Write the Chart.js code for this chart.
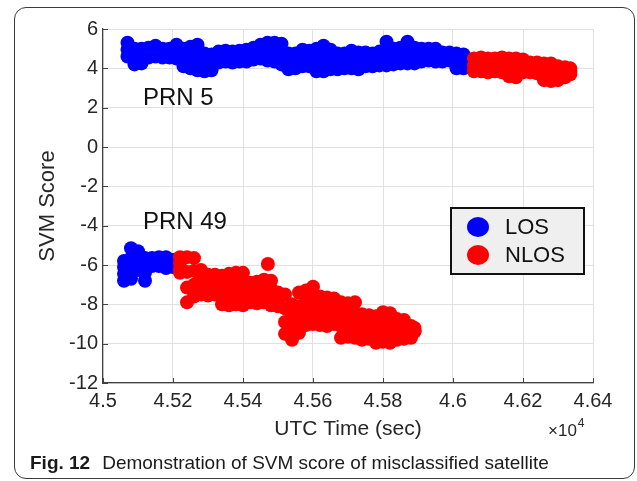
<!DOCTYPE html>
<html>
<head>
<meta charset="utf-8">
<script src="https://cdn.jsdelivr.net/npm/chart.js@4.4.1/dist/chart.umd.min.js"></script>
<style>
  html, body { margin: 0; padding: 0; background: #fff; }
  #wrap { position: relative; width: 637px; height: 481px; overflow: hidden; background: #fff; }
  #frame { position: absolute; left: 14px; top: 7px; width: 621px; height: 472px; box-sizing: border-box;
           border: 1.5px solid #3a3a3a; border-radius: 12px; }
  #chart { position: absolute; left: 0; top: 0; }
  #caption { position: absolute; left: 30px; top: 453px; font-family: "Liberation Sans", Arial, sans-serif;
             font-size: 19px; line-height: 19px; color: #1a1a1a; white-space: nowrap; }
  #caption b { margin-right: 12px; }
</style>
</head>
<body>
<div id="wrap">
  <div id="frame"></div>
  <canvas id="chart" width="637" height="481"></canvas>
  <div id="caption"><b>Fig. 12</b>Demonstration of SVM score of misclassified satellite</div>
</div>
<script>
// ---------- data (x in units of 10^4 s) ----------
const xTickValues = [4.5, 4.52, 4.54, 4.56, 4.58, 4.6, 4.62, 4.64];
const yTickValues = [-12, -10, -8, -6, -4, -2, 0, 2, 4, 6];

// PRN 5 - LOS part
const prn5LosTime = [4.507,4.509,4.511,4.513,4.515,4.517,4.519,4.521,4.523,4.525,4.527,4.529,4.531,4.533,4.535,4.537,4.539,4.541,4.543,4.545,4.547,4.549,4.551,4.553,4.555,4.557,4.559,4.561,4.563,4.565,4.567,4.569,4.571,4.573,4.575,4.577,4.579,4.581,4.583,4.585,4.587,4.589,4.591,4.593,4.595,4.597,4.599,4.601,4.603];
const prn5LosTop = [5.3,5.0,5.0,5.05,5.15,5.0,5.0,5.2,5.0,5.1,5.2,4.75,4.7,4.85,4.9,4.85,4.9,4.95,5.05,5.2,5.3,5.3,5.25,4.75,4.75,4.95,4.9,5.0,5.15,4.95,4.75,4.75,4.9,4.8,4.8,4.75,4.85,5.35,5.0,5.05,5.35,5.05,5.0,5.0,5.0,4.8,4.8,4.75,4.7];
const prn5LosMid = [4.95,4.6,4.6,4.8,4.85,4.8,4.75,4.85,4.55,4.5,4.55,4.3,4.3,4.55,4.6,4.55,4.6,4.65,4.75,4.85,4.85,4.8,4.7,4.35,4.35,4.55,4.5,4.4,4.5,4.45,4.35,4.35,4.45,4.4,4.45,4.45,4.5,4.75,4.6,4.65,4.8,4.65,4.7,4.7,4.7,4.6,4.55,4.35,4.35];
const prn5LosBottom = [4.6,4.2,4.25,4.55,4.6,4.55,4.55,4.5,4.1,4.0,3.9,3.85,3.9,4.3,4.35,4.3,4.35,4.35,4.45,4.5,4.4,4.35,4.2,3.95,4.0,4.1,4.1,3.85,3.85,3.95,3.95,4.0,4.0,3.95,4.1,4.1,4.15,4.15,4.2,4.25,4.25,4.25,4.35,4.4,4.35,4.35,4.4,4.0,4.0];

// PRN 5 - NLOS part
const prn5NlosTime = [4.606,4.608,4.610,4.612,4.614,4.616,4.618,4.620,4.622,4.624,4.626,4.628,4.630,4.632,4.6335];
const prn5NlosTop = [4.5,4.55,4.5,4.5,4.55,4.5,4.5,4.45,4.3,4.3,4.25,4.25,4.1,4.05,4.0];
const prn5NlosMid = [4.15,4.2,4.15,4.2,4.15,4.05,4.05,4.1,4.05,4.0,3.85,3.8,3.75,3.8,3.85];
const prn5NlosBottom = [3.85,3.85,3.8,3.85,3.8,3.6,3.55,3.8,3.8,3.75,3.4,3.35,3.4,3.55,3.7];

// PRN 49 - LOS part
const prn49LosTime = [4.506,4.508,4.510,4.512,4.514,4.516,4.518,4.520];
const prn49LosTop = [-5.8,-5.15,-5.3,-5.65,-5.65,-5.6,-5.6,-5.75];
const prn49LosUpperMid = [-6.1,-5.65,-5.6,-6.0,-5.75,-5.75,-5.8,-5.85];
const prn49LosLowerMid = [-6.45,-6.2,-5.95,-6.4,-5.9,-5.9,-6.0,-5.95];
const prn49LosBottom = [-6.8,-6.7,-6.25,-6.8,-6.05,-6.05,-6.15,-6.1];

// PRN 49 - NLOS part
const prn49NlosTime = [4.522,4.524,4.526,4.528,4.530,4.532,4.534,4.536,4.538,4.540,4.542,4.544,4.546,4.548,4.550,4.552,4.554,4.556,4.558,4.560,4.562,4.564,4.566,4.568,4.570,4.572,4.574,4.576,4.578,4.580,4.582,4.584,4.586,4.588,4.589];
const prn49NlosTop = [-5.6,-5.6,-5.65,-6.25,-6.5,-6.5,-6.55,-6.45,-6.4,-6.4,-6.9,-6.85,-6.75,-6.8,-7.4,-7.5,-8.0,-7.4,-7.3,-7.1,-7.6,-7.65,-7.7,-7.9,-7.95,-7.9,-8.5,-8.55,-8.6,-8.4,-8.45,-8.75,-8.8,-9.1,-9.2];
const prn49NlosUpperMid = [-5.9,-6.35,-6.3,-6.7,-6.9,-6.85,-7.05,-7.0,-6.95,-6.95,-7.25,-7.2,-7.15,-7.2,-7.6,-8.2,-8.6,-8.1,-7.9,-7.7,-8.1,-8.15,-8.1,-8.5,-8.5,-8.5,-8.95,-8.95,-9.05,-8.9,-8.95,-9.1,-9.1,-9.3,-9.3];
const prn49NlosLowerMid = [-6.2,-7.15,-7.0,-7.1,-7.2,-7.2,-7.55,-7.5,-7.45,-7.5,-7.6,-7.6,-7.5,-7.65,-7.85,-8.9,-9.2,-8.8,-8.5,-8.35,-8.55,-8.6,-8.55,-9.1,-9.1,-9.1,-9.4,-9.35,-9.5,-9.4,-9.45,-9.45,-9.4,-9.5,-9.35];
const prn49NlosBottom = [-6.4,-7.9,-7.6,-7.5,-7.55,-7.5,-8.0,-8.05,-8.0,-8.05,-7.9,-7.95,-7.9,-8.05,-8.1,-9.5,-9.8,-9.45,-9.05,-9.0,-9.05,-9.1,-9.0,-9.7,-9.65,-9.7,-9.8,-9.75,-9.95,-9.9,-9.95,-9.8,-9.75,-9.7,-9.4];

// isolated NLOS point of PRN 49
const prn49NlosExtraTime = [4.5471];
const prn49NlosExtraScore = [-5.95];

// text labels
const labelTexts = ['PRN 5', 'PRN 49'];
const labelX = [4.5114, 4.5114];
const labelY = [2.45, -3.85];

const legendLabels = ['LOS', 'NLOS'];
const colorLOS = '#0000ff';
const colorNLOS = '#ff0000';

// ---------- build point lists ----------
function pts(times, ...layers) {
  const out = [];
  layers.forEach(layer => layer.forEach((v, i) => out.push({ x: times[i], y: v })));
  return out;
}
const losPoints = [].concat(
  pts(prn5LosTime, prn5LosTop, prn5LosMid, prn5LosBottom),
  pts(prn49LosTime, prn49LosTop, prn49LosUpperMid, prn49LosLowerMid, prn49LosBottom)
);
const nlosPoints = [].concat(
  pts(prn5NlosTime, prn5NlosTop, prn5NlosMid, prn5NlosBottom),
  pts(prn49NlosTime, prn49NlosTop, prn49NlosUpperMid, prn49NlosLowerMid, prn49NlosBottom),
  pts(prn49NlosExtraTime, prn49NlosExtraScore)
);

const FONT = '"Liberation Sans", Arial, Helvetica, sans-serif';
const TXT = '#262626';

const decor = {
  id: 'decor',
  afterDraw(chart) {
    const { ctx, chartArea: ca, scales: { x, y } } = chart;
    ctx.save();
    // inward tick marks
    ctx.strokeStyle = '#404040';
    ctx.lineWidth = 1;
    ctx.beginPath();
    yTickValues.forEach(v => {
      const py = Math.round(y.getPixelForValue(v)) + 0.5;
      ctx.moveTo(ca.left, py); ctx.lineTo(ca.left + 5, py);
    });
    xTickValues.forEach(v => {
      const px = Math.round(x.getPixelForValue(v)) + 0.5;
      ctx.moveTo(px, ca.bottom); ctx.lineTo(px, ca.bottom - 5);
    });
    ctx.stroke();

    // PRN labels
    ctx.fillStyle = '#111';
    ctx.font = '24px ' + FONT;
    ctx.textBaseline = 'middle';
    ctx.textAlign = 'left';
    labelTexts.forEach((t, i) => ctx.fillText(t, x.getPixelForValue(labelX[i]), y.getPixelForValue(labelY[i])));

    // legend box
    const bw = 133, bh = 66;
    const bx = ca.right - 142, by = ca.top + 179;
    ctx.fillStyle = '#efefef';
    ctx.fillRect(bx, by, bw, bh);
    ctx.strokeStyle = '#111';
    ctx.lineWidth = 2;
    ctx.strokeRect(bx, by, bw, bh);
    const cols = [colorLOS, colorNLOS];
    legendLabels.forEach((t, i) => {
      const cy = by + 19 + i * 28;
      ctx.fillStyle = cols[i];
      ctx.beginPath();
      ctx.ellipse(bx + 27, cy, 11, 10, 0, 0, Math.PI * 2);
      ctx.fill();
      ctx.fillStyle = '#111';
      ctx.font = '22px ' + FONT;
      ctx.textBaseline = 'middle';
      ctx.fillText(t, bx + 54, cy + 1);
    });

    // x10^4 exponent label
    ctx.fillStyle = TXT;
    ctx.textBaseline = 'alphabetic';
    ctx.font = '17px ' + FONT;
    ctx.fillText('\u00d710', ca.right - 45, 436);
    const w = ctx.measureText('\u00d710').width;
    ctx.font = '12px ' + FONT;
    ctx.fillText('4', ca.right - 45 + w + 1, 427);
    ctx.restore();
  }
};

new Chart(document.getElementById('chart'), {
  type: 'scatter',
  data: {
    datasets: [
      { label: 'NLOS', data: nlosPoints, backgroundColor: colorNLOS, borderWidth: 0, pointRadius: 7, pointHoverRadius: 7 },
      { label: 'LOS', data: losPoints, backgroundColor: colorLOS, borderWidth: 0, pointRadius: 7, pointHoverRadius: 7 }
    ]
  },
  options: {
    responsive: false,
    animation: false,
    devicePixelRatio: 1,
    layout: { padding: { left: 0, right: 44, top: 29, bottom: 0 } },
    plugins: { legend: { display: false }, tooltip: { enabled: false } },
    scales: {
      x: {
        type: 'linear', min: 4.5, max: 4.64,
        afterBuildTicks: s => { s.ticks = xTickValues.map(v => ({ value: v })); },
        afterFit: s => { s.height = 98; },
        grid: { color: '#e0e0e0', lineWidth: 1, drawTicks: false },
        border: { color: '#404040', width: 1.2 },
        ticks: { padding: 6, color: TXT, font: { family: FONT, size: 20 }, maxRotation: 0,
                 callback: v => String(Number(Number(v).toFixed(2))) },
        title: { display: true, text: 'UTC Time (sec)', color: TXT, font: { family: FONT, size: 21 },
                 padding: { top: 0, bottom: 39 } }
      },
      y: {
        type: 'linear', min: -12, max: 6,
        afterBuildTicks: s => { s.ticks = yTickValues.map(v => ({ value: v })); },
        afterFit: s => { s.width = 103; },
        grid: { color: '#e0e0e0', lineWidth: 1, drawTicks: false },
        border: { color: '#404040', width: 1.2 },
        ticks: { padding: 5, color: TXT, font: { family: FONT, size: 20 } },
        title: { display: true, text: 'SVM Score', color: TXT, font: { family: FONT, size: 22 },
                 padding: { top: 35, bottom: 0 } }
      }
    }
  },
  plugins: [decor]
});
</script>
</body>
</html>
